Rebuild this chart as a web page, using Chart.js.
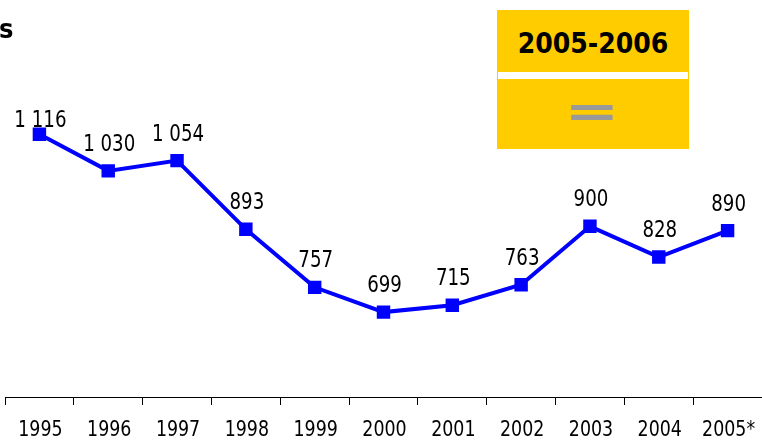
<!DOCTYPE html>
<html>
<head>
<meta charset="utf-8">
<script src="https://cdn.jsdelivr.net/npm/chart.js@4.4.1/dist/chart.umd.min.js"></script>
<style>
  html, body { margin: 0; padding: 0; background: #fff; overflow: hidden; }
  #wrap { position: relative; width: 762px; height: 440px; overflow: hidden; }
  #c { position: absolute; left: 0; top: 0; }
  #title { position: absolute; left: -1px; top: 15px; font: bold 27px "DejaVu Sans Condensed", "DejaVu Sans"; line-height: 27px; color: #000; white-space: nowrap; }
  #box { position: absolute; left: 497px; top: 10px; width: 192px; height: 139px; background: #FFCC00; }
  #box .stripe { position: absolute; left: 1px; right: 1px; top: 62px; height: 7px; background: #fff; }
  #box .head { position: absolute; left: 0; width: 192px; top: 20px; text-align: center; font: bold 28px "DejaVu Sans Condensed", "DejaVu Sans"; line-height: 28px; color: #000; }
  #box .eq { position: absolute; left: 0; width: 190px; top: 68px; text-align: center; font: bold 66px "DejaVu Sans"; line-height: 66px; color: #999999; transform: scaleY(0.68); transform-origin: 50% 50%; }
</style>
</head>
<body>
<div id="wrap">
  <canvas id="c" width="762" height="440"></canvas>
  <div id="title">s</div>
  <div id="box">
    <div class="head">2005-2006</div>
    <div class="stripe"></div>
    <div class="eq">=</div>
  </div>
</div>
<script>
const categories = ['1995', '1996', '1997', '1998', '1999', '2000', '2001', '2002', '2003', '2004', '2005*'];
const values = [1116, 1030, 1054, 893, 757, 699, 715, 763, 900, 828, 890];

const FONT = '"DejaVu Sans Condensed", "DejaVu Sans", sans-serif';
const SQUEEZE = 0.88;

function fmt(n) {
  return String(n).replace(/\B(?=(\d{3})+(?!\d))/g, ' ');
}

function squeezedText(ctx, text, x, y) {
  ctx.save();
  ctx.translate(x, y);
  ctx.scale(SQUEEZE, 1);
  ctx.fillText(text, 0, 0);
  ctx.restore();
}

const labelPlugin = {
  id: 'valueLabels',
  afterDatasetsDraw(chart) {
    const ctx = chart.ctx;
    const meta = chart.getDatasetMeta(0);
    ctx.save();
    ctx.fillStyle = '#000';
    ctx.textAlign = 'center';
    ctx.textBaseline = 'alphabetic';
    // value labels above points
    ctx.font = '23px ' + FONT;
    meta.data.forEach((pt, i) => {
      const y = Math.max(pt.y - 20, chart.chartArea.top + 114);
      squeezedText(ctx, fmt(values[i]), pt.x + 1, y);
    });
    // category labels under the x axis, placed by the x scale
    const xs = chart.scales.x;
    ctx.font = '22px ' + FONT;
    xs.ticks.forEach((t, i) => {
      squeezedText(ctx, String(t.label), xs.getPixelForTick(i) + 1, xs.bottom - 4);
    });
    ctx.restore();
  }
};

new Chart(document.getElementById('c'), {
  type: 'line',
  data: {
    labels: categories,
    datasets: [{
      data: values,
      borderColor: '#0000FF',
      backgroundColor: '#0000FF',
      borderWidth: 4,
      pointStyle: 'rect',
      pointRadius: 9.5,
      pointHoverRadius: 9.5,
      pointBorderWidth: 0,
      tension: 0,
      fill: false
    }]
  },
  options: {
    responsive: false,
    devicePixelRatio: 1,
    animation: false,
    layout: { autoPadding: false, padding: { left: 5, right: 0, top: 13, bottom: 0 } },
    plugins: { legend: { display: false }, tooltip: { enabled: false }, title: { display: false } },
    scales: {
      x: {
        offset: true,
        grid: { display: true, drawOnChartArea: false, drawTicks: true, tickLength: 8, color: '#000', offset: true, lineWidth: 1 },
        border: { display: true, color: '#000', width: 1 },
        ticks: { color: 'rgba(0,0,0,0)', font: { family: FONT, size: 22 }, padding: 11, maxRotation: 0, autoSkip: false },
        afterFit(scale) { scale.height = 43; scale.paddingLeft = 0; scale.paddingRight = 0; }
      },
      y: {
        display: false,
        min: 500,
        max: 1400
      }
    }
  },
  plugins: [labelPlugin]
});
</script>
</body>
</html>
